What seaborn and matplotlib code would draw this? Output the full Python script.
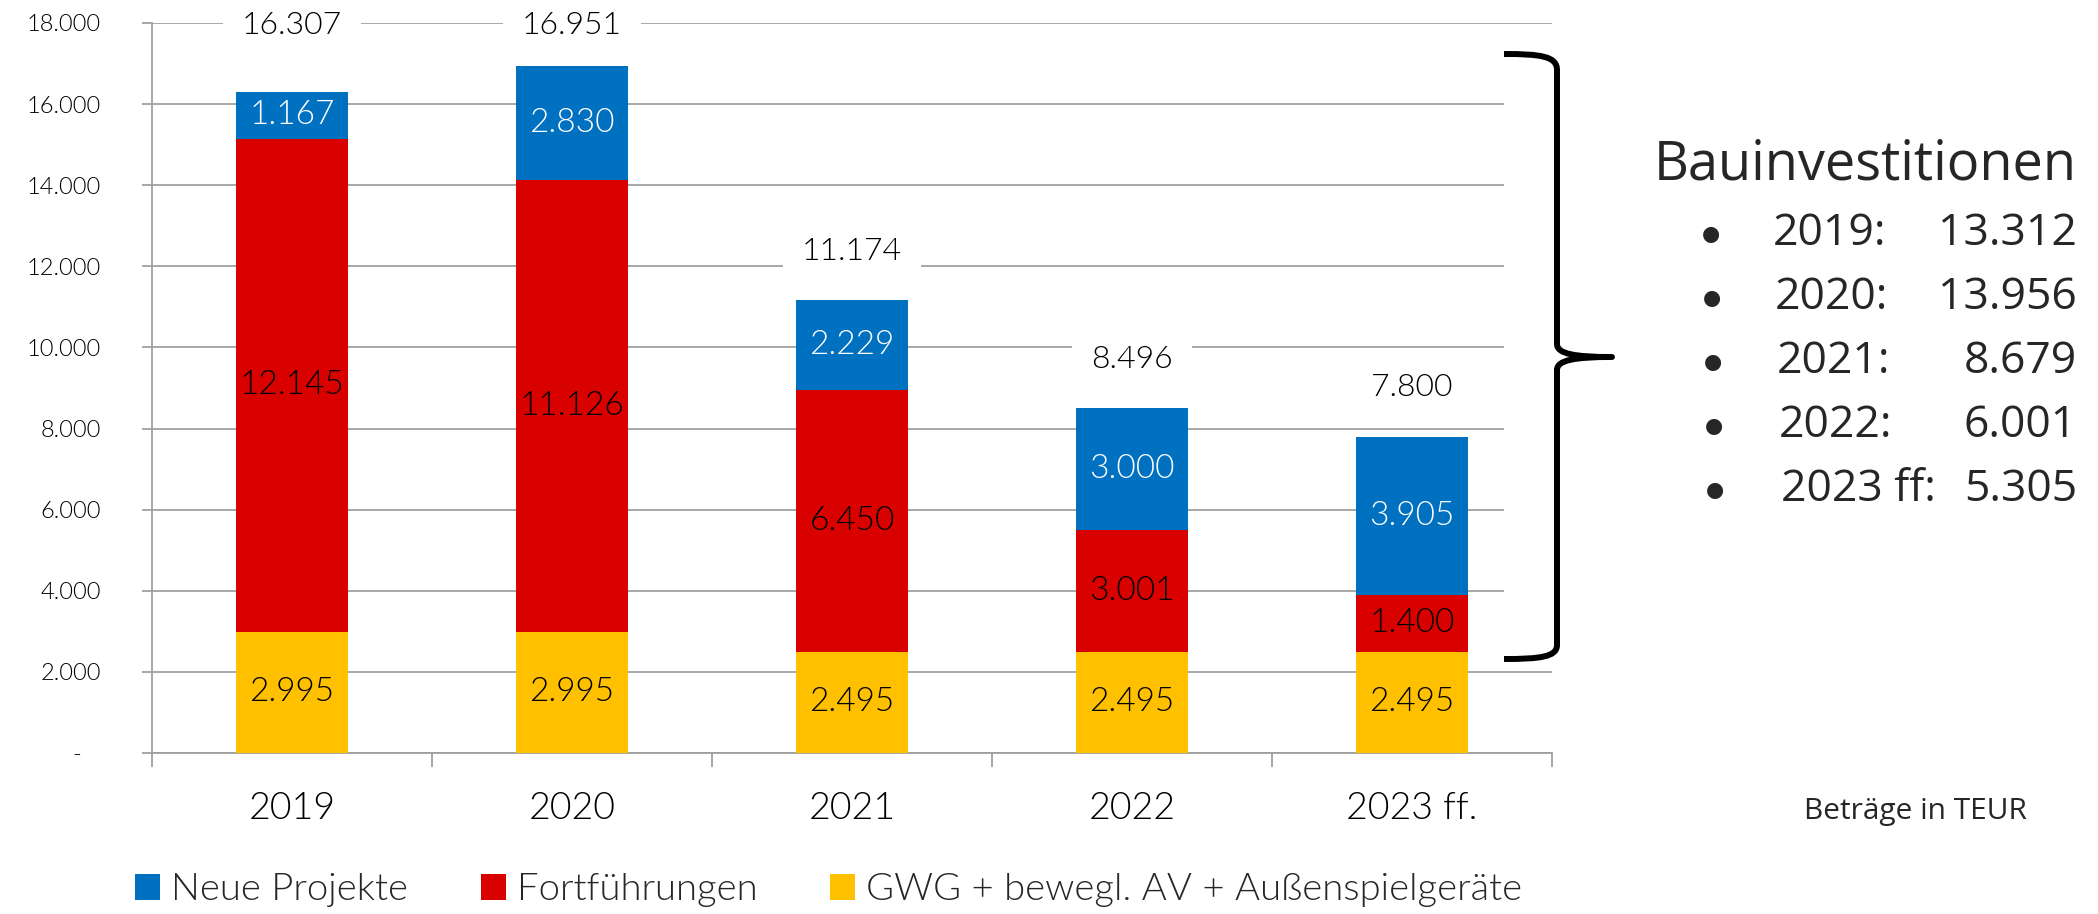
import numpy as np
import pandas as pd
import matplotlib
matplotlib.use("Agg")
import matplotlib.pyplot as plt
from matplotlib.patches import Patch, PathPatch, Rectangle
from matplotlib.path import Path
from matplotlib.ticker import FuncFormatter
import seaborn as sns

# Werte in TEUR
jahre = ["2019", "2020", "2021", "2022", "2023 ff."]
gwg = [2995, 2995, 2495, 2495, 2495]
fortfuehrungen = [12145, 11126, 6450, 3001, 1400]
neue_projekte = [1167, 2830, 2229, 3000, 3905]
bau_jahre = ["2019:", "2020:", "2021:", "2022:", "2023 ff:"]

blau = "#0070C0"
rot = "#D90000"
gelb = "#FFC000"
grau = "#A0A0A0"

W, H = 2098, 914


def de(v):
    return f"{v:,.0f}".replace(",", ".")


def fxy(px, py):
    # Bildpixel -> Figurkoordinaten
    return (px / W, 1 - py / H)


df = pd.DataFrame({"Jahr": jahre, "GWG": gwg, "Fort": fortfuehrungen, "Neu": neue_projekte})
df["stufe1"] = df["GWG"]
df["stufe2"] = df["GWG"] + df["Fort"]
df["gesamt"] = df["stufe2"] + df["Neu"]
df["bau"] = df["Fort"] + df["Neu"]

sns.set_style("white")
plt.rcParams["font.family"] = ["Lato", "DejaVu Sans"]
plt.rcParams["font.weight"] = 300

fig = plt.figure(figsize=(W / 100, H / 100), dpi=100)
ax = fig.add_axes([152 / W, 1 - 753 / H, 1400 / W, 730 / H])

# gestapelt: kumulierte Balken übereinander
for col, farbe in [("gesamt", blau), ("stufe2", rot), ("stufe1", gelb)]:
    sns.barplot(data=df, x="Jahr", y=col, color=farbe, saturation=1, width=0.4,
                linewidth=0, ax=ax, zorder=3)

ax.set_xlim(-0.5, 4.5)
ax.set_ylim(0, 18000)
ax.set_xlabel("")
ax.set_ylabel("")
ax.set_axisbelow(True)
ax.set_yticks(range(0, 18001, 2000))
ax.yaxis.set_major_formatter(FuncFormatter(lambda v, p: "-   " if v == 0 else de(v)))
ax.yaxis.grid(True, color=grau, linewidth=1.3)
ax.xaxis.grid(False)
for s in ["top", "right"]:
    ax.spines[s].set_visible(False)
for s in ["left", "bottom"]:
    ax.spines[s].set_color(grau)
    ax.spines[s].set_linewidth(1.3)

ax.set_xticks(np.arange(-0.5, 5, 1), minor=True)
ax.tick_params(axis="y", left=True, length=7, width=1.3, color=grau, pad=30,
               labelsize=17, labelcolor="black", direction="out")
ax.tick_params(axis="x", which="major", bottom=True, length=0, pad=28, labelsize=27,
               labelcolor="black")
ax.tick_params(axis="x", which="minor", bottom=True, length=10, width=1.3, color=grau,
               direction="out")

# Beschriftungen
for i, r in df.iterrows():
    ax.text(i, r["GWG"] / 2, de(r["GWG"]), ha="center", va="center", fontsize=24,
            color="black", zorder=6)
    ax.text(i, r["GWG"] + r["Fort"] / 2, de(r["Fort"]), ha="center", va="center",
            fontsize=24, color="black", zorder=6)
    ax.text(i, r["stufe2"] + r["Neu"] / 2, de(r["Neu"]), ha="center", va="center",
            fontsize=24, color="white", zorder=6)
    y_sum = 17930 if r["gesamt"] > 16000 else r["gesamt"] + 1200
    ax.text(i, y_sum, de(r["gesamt"]), ha="center", va="center", fontsize=23,
            color="black", zorder=6,
            bbox=dict(boxstyle="square,pad=0.6", facecolor="white", edgecolor="none"))

handles = [Patch(facecolor=blau, linewidth=0, label="Neue Projekte"),
           Patch(facecolor=rot, linewidth=0, label="Fortführungen"),
           Patch(facecolor=gelb, linewidth=0, label="GWG + bewegl. AV + Außenspielgeräte")]
fig.legend(handles=handles, loc="center", bbox_to_anchor=(0.395, 0.026), ncol=3,
           frameon=False, fontsize=27.5, handlelength=0.65, handleheight=0.65,
           handletextpad=0.3, columnspacing=1.9)

# geschweifte Klammer
x0, y0 = fxy(1504, 659)
x1, y1 = fxy(1620, 54)
fig.add_artist(Rectangle((x0, y0), x1 - x0, y1 - y0, transform=fig.transFigure,
                         facecolor="white", edgecolor="none", zorder=4))
pts = [(1504, 54), (1540, 54), (1557, 56), (1557, 70),
       (1557, 344),
       (1557, 354), (1575, 357), (1612, 357),
       (1575, 357), (1557, 360), (1557, 370),
       (1557, 645),
       (1557, 657), (1540, 659), (1504, 659)]
codes = [Path.MOVETO, Path.CURVE4, Path.CURVE4, Path.CURVE4,
         Path.LINETO,
         Path.CURVE4, Path.CURVE4, Path.CURVE4,
         Path.CURVE4, Path.CURVE4, Path.CURVE4,
         Path.LINETO,
         Path.CURVE4, Path.CURVE4, Path.CURVE4]
klammer = Path([fxy(*p) for p in pts], codes)
fig.add_artist(PathPatch(klammer, transform=fig.transFigure, facecolor="none",
                         edgecolor="black", linewidth=4.3, joinstyle="round",
                         capstyle="butt", zorder=5))

# Textblock rechts
sans = ["Open Sans", "DejaVu Sans"]
fig.text(*fxy(2077, 165), "Bauinvestitionen", ha="right", va="center", fontsize=39,
         family=sans, weight="medium")
for i, (lab, v) in enumerate(zip(bau_jahre, df["bau"])):
    py = 234 + 64 * i
    fig.text(*fxy(1711 + i, py), "●", ha="center", va="center", fontsize=15,
             family="DejaVu Sans", weight="normal")
    fig.text(*fxy(1773 + 2 * i, py), lab, ha="left", va="center", fontsize=32,
             family=sans, weight="normal")
    fig.text(*fxy(2077, py), de(v), ha="right", va="center", fontsize=32,
             family=sans, weight="normal")

fig.text(*fxy(1915, 812), "Beträge in TEUR", ha="center", va="center", fontsize=21.5,
         family=sans, weight="normal")

fig.savefig("out.png", dpi=100)
